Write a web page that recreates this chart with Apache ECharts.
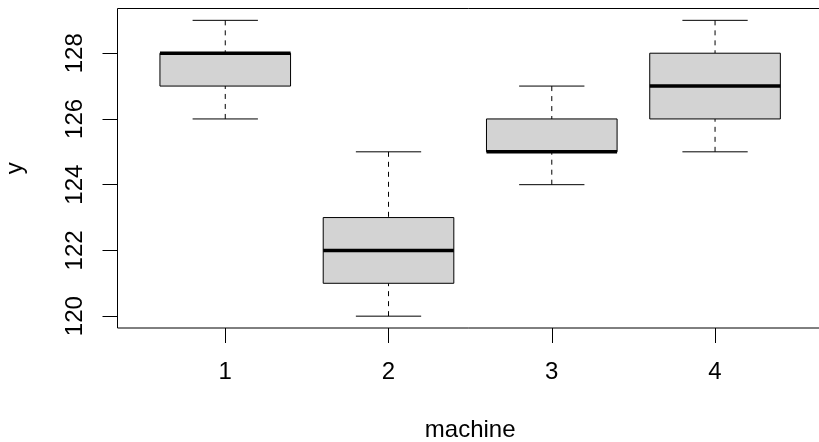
<!DOCTYPE html>
<html>
<head>
<meta charset="utf-8">
<script src="https://cdn.jsdelivr.net/npm/echarts@6/dist/echarts.min.js"></script>
<style>
  html, body { margin: 0; padding: 0; background: #fff; }
  #chart { width: 819px; height: 442px; }
</style>
</head>
<body>
<div id="chart"></div>
<script>
  // box statistics per machine
  var machines = [1, 2, 3, 4];
  var mins    = [126, 120, 124, 125];
  var q1s     = [127, 121, 125, 126];
  var medians = [128, 122, 125, 127];
  var q3s     = [128, 123, 126, 128];
  var maxs    = [129, 125, 127, 129];
  var yTicks  = [120, 122, 124, 126, 128];

  var boxWidth = 0.8;
  var capWidth = 0.4;
  var fontFamily = "'Liberation Sans', Arial, sans-serif";
  var fontSize = 24;

  var data = machines.map(function (m, i) {
    return [m, mins[i], q1s[i], medians[i], q3s[i], maxs[i]];
  });

  function renderBox(param, api) {
    var x = api.value(0);
    var pMin = api.coord([x, api.value(1)]);
    var pQ1 = api.coord([x, api.value(2)]);
    var pMed = api.coord([x, api.value(3)]);
    var pQ3 = api.coord([x, api.value(4)]);
    var pMax = api.coord([x, api.value(5)]);
    var bw = api.size([boxWidth, 0])[0];
    var cw = api.size([capWidth, 0])[0];
    var cx = pMed[0];
    var dashed = { stroke: '#000', lineWidth: 1, lineDash: [5, 5] };
    var solid = { stroke: '#000', lineWidth: 1 };
    return {
      type: 'group',
      children: [
        // whiskers, drawn from the caps toward the box
        { type: 'line', shape: { x1: cx, y1: pMin[1], x2: cx, y2: pQ1[1] }, style: dashed },
        { type: 'line', shape: { x1: cx, y1: pMax[1], x2: cx, y2: pQ3[1] }, style: dashed },
        { type: 'line', shape: { x1: cx - cw / 2, y1: pMin[1], x2: cx + cw / 2, y2: pMin[1] }, style: solid },
        { type: 'line', shape: { x1: cx - cw / 2, y1: pMax[1], x2: cx + cw / 2, y2: pMax[1] }, style: solid },
        {
          type: 'rect',
          shape: { x: cx - bw / 2, y: pQ3[1], width: bw, height: pQ1[1] - pQ3[1] },
          style: { fill: '#d3d3d3', stroke: '#000', lineWidth: 1 }
        },
        { type: 'line', shape: { x1: cx - bw / 2, y1: pMed[1], x2: cx + bw / 2, y2: pMed[1] },
          style: { stroke: '#000', lineWidth: 3.5 } }
      ]
    };
  }

  var chart = echarts.init(document.getElementById('chart'));
  var option = {
    animation: false,
    backgroundColor: '#fff',
    grid: {
      left: 117.5,
      top: 8.5,
      width: 705.3,
      height: 319.5,
      outerBoundsMode: 'none',
      containLabel: false,
      show: true,
      borderColor: '#000',
      borderWidth: 1,
      backgroundColor: 'transparent'
    },
    xAxis: {
      type: 'value',
      min: 0.34,
      max: 4.66,
      name: 'machine',
      nameLocation: 'middle',
      nameGap: 90,
      nameTextStyle: { color: '#000', fontSize: fontSize, fontFamily: fontFamily },
      axisLine: { show: false },
      splitLine: { show: false },
      axisTick: {
        show: true,
        customValues: machines,
        length: 15,
        lineStyle: { color: '#000', width: 1 }
      },
      axisLabel: {
        customValues: machines,
        margin: 32,
        color: '#000',
        fontSize: fontSize,
        fontFamily: fontFamily
      }
    },
    yAxis: {
      type: 'value',
      min: 119.64,
      max: 129.36,
      name: 'y',
      nameLocation: 'middle',
      nameRotate: 90,
      nameGap: 90,
      nameTextStyle: { color: '#000', fontSize: fontSize, fontFamily: fontFamily },
      axisLine: { show: false },
      splitLine: { show: false },
      axisTick: {
        show: true,
        customValues: yTicks,
        length: 15,
        lineStyle: { color: '#000', width: 1 }
      },
      axisLabel: {
        customValues: yTicks,
        rotate: 90,
        margin: 30,
        color: '#000',
        fontSize: fontSize,
        fontFamily: fontFamily
      }
    },
    series: [{
      type: 'custom',
      renderItem: renderBox,
      encode: { x: 0, y: [1, 2, 3, 4, 5] },
      data: data,
      clip: false
    }]
  };
  chart.setOption(option);
</script>
</body>
</html>
